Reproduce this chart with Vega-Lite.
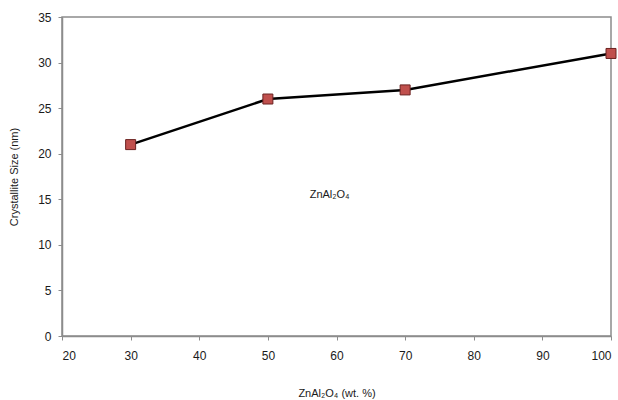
{
  "$schema": "https://vega.github.io/schema/vega-lite/v6.json",
  "autosize": "none",
  "width": 549,
  "height": 319,
  "padding": {"left": 62, "top": 17, "right": 7, "bottom": 64},
  "background": "white",
  "config": {
    "view": {"stroke": "#8c8c8c", "strokeWidth": 1.5},
    "axis": {
      "labelFont": "Liberation Sans",
      "titleFont": "Liberation Sans",
      "labelFontSize": 12,
      "titleFontSize": 11,
      "titleFontWeight": "normal",
      "labelColor": "#1a1a1a",
      "titleColor": "#1a1a1a",
      "domainColor": "#8c8c8c",
      "domainWidth": 1.5,
      "tickColor": "#8c8c8c",
      "tickSize": 4,
      "grid": false
    }
  },
  "data": {
    "values": [
      {"wt": 30, "size": 21},
      {"wt": 50, "size": 26},
      {"wt": 70, "size": 27},
      {"wt": 100, "size": 31}
    ]
  },
  "layer": [
    {
      "mark": {"type": "line", "color": "black", "strokeWidth": 2.5},
      "encoding": {
        "x": {"field": "wt", "type": "quantitative", "scale": {"domain": [20, 100], "nice": false, "zero": false},
              "axis": {"values": [20,30,40,50,60,70,80,90,100], "title": "ZnAl₂O₄ (wt. %)", "titlePadding": 26, "labelPadding": 10}},
        "y": {"field": "size", "type": "quantitative", "scale": {"domain": [0, 35], "nice": false},
              "axis": {"values": [0,5,10,15,20,25,30,35], "title": "Crystallite Size (nm)", "titlePadding": 18, "labelPadding": 7}}
      }
    },
    {
      "mark": {"type": "square", "size": 100, "fill": "#c0504d", "stroke": "#6b2220", "strokeWidth": 1, "opacity": 1},
      "encoding": {
        "x": {"field": "wt", "type": "quantitative"},
        "y": {"field": "size", "type": "quantitative"}
      }
    },
    {
      "data": {"values": [{"x": 59, "y": 15.5, "t": "ZnAl₂O₄"}]},
      "mark": {"type": "text", "font": "Liberation Sans", "fontSize": 11, "color": "#1a1a1a"},
      "encoding": {
        "x": {"field": "x", "type": "quantitative"},
        "y": {"field": "y", "type": "quantitative"},
        "text": {"field": "t"}
      }
    }
  ]
}
